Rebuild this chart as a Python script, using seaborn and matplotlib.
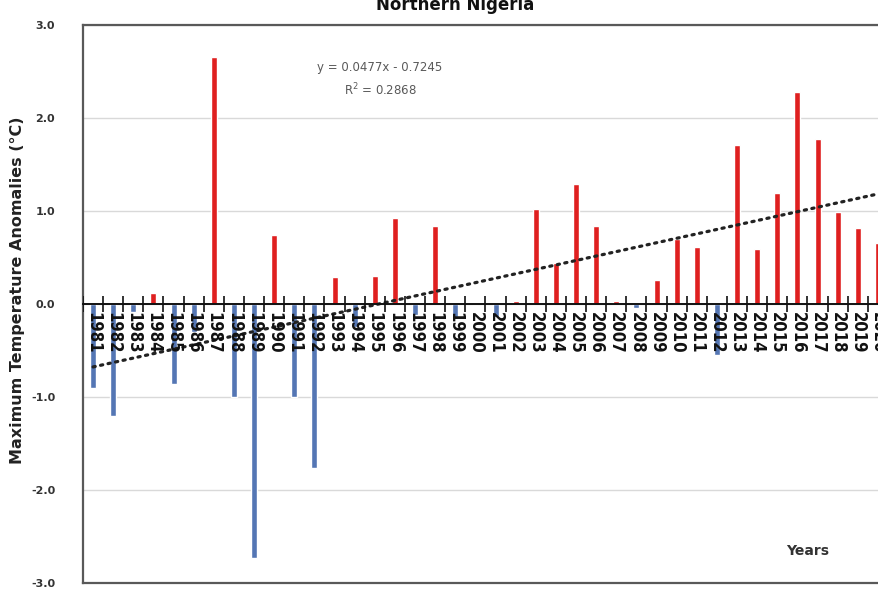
import matplotlib
matplotlib.use("Agg")
import matplotlib.pyplot as plt
from matplotlib.ticker import FormatStrFormatter
import numpy as np
import pandas as pd
import seaborn as sns

# Annual maximum temperature anomalies (°C), Northern Nigeria
years = list(range(1981, 2021))
anomalies = [
    -0.90, -1.20, -0.09, 0.12, -0.86, -0.30, 2.66, -1.00, -2.73, 0.74,
    -1.00, -1.76, 0.29, -0.25, 0.30, 0.92, -0.12, 0.84, -0.14, 0.00,
    -0.14, 0.03, 1.02, 0.44, 1.29, 0.84, 0.03, -0.04, 0.26, 0.70,
    0.61, -0.55, 1.71, 0.59, 1.19, 2.28, 1.77, 0.99, 0.82, 0.66,
]
# Linear trend as reported on the chart (x = 1 .. n)
trend_slope = 0.0477
trend_intercept = -0.7245
trend_r2 = 0.2868

title = "Northern Nigeria"
y_label = "Maximum Temperature Anomalies (°C)"
x_label = "Years"
y_ticks = [-3.0, -2.0, -1.0, 0.0, 1.0, 2.0, 3.0]

df = pd.DataFrame({
    "year": [str(y) for y in years],
    "anomaly": anomalies,
})
df["sign"] = np.where(df["anomaly"] >= 0, "pos", "neg")

sns.set_theme(style="white")
plt.rcParams["font.family"] = ["DejaVu Sans"]

fig = plt.figure(figsize=(8.79, 5.92), dpi=100)
ax = fig.add_axes([83 / 879, 9 / 592, 805 / 879, 558 / 592])

sns.barplot(
    data=df, x="year", y="anomaly", hue="sign",
    order=df["year"], hue_order=["neg", "pos"],
    palette={"neg": "#4472C4", "pos": "#FF0000"},
    dodge=False, width=0.3, legend=False, ax=ax, zorder=2,
)

# Trend line from the reported regression
pos = np.arange(len(years))
trend = trend_slope * (pos + 1) + trend_intercept
ax.plot(pos, trend, linestyle=(0, (0.7, 1.7)), color="#222222",
        linewidth=2.3, dash_capstyle="round", zorder=3)

ax.set_xlim(-0.5, len(years) - 0.5)
ax.set_ylim(y_ticks[0], y_ticks[-1])
ax.set_yticks(y_ticks)
ax.yaxis.set_major_formatter(FormatStrFormatter("%.1f"))
ax.tick_params(axis="y", length=0, pad=20, labelsize=8, labelcolor="#333333")
for lab in ax.get_yticklabels():
    lab.set_fontweight("bold")
ax.set_xticks([])
ax.set_xlabel("")
ax.set_ylabel("")

ax.yaxis.grid(True, color="#d9d9d9", linewidth=1.0, zorder=0)
ax.set_axisbelow(True)
for s in ax.spines.values():
    s.set_color("#595959")
    s.set_linewidth(1.6)

# Category separators crossing the zero line
boundaries = np.arange(len(years) + 1) - 0.5
ax.vlines(boundaries, -0.085, 0.085, color="#111111", linewidth=1.2, zorder=4)

# Zero line carrying the year labels
zero_ax = ax.secondary_xaxis(0.5)
zero_ax.set_zorder(5)
zero_ax.xaxis.tick_bottom()
for name in ("top", "bottom"):
    zero_ax.spines[name].set_color("#111111")
    zero_ax.spines[name].set_linewidth(1.4)
zero_ax.set_xticks(pos)
zero_ax.set_xticklabels([str(y) for y in years], rotation=-90,
                        fontsize=12, fontweight="bold", fontstretch="condensed",
                        color="#111111")
zero_ax.tick_params(axis="x", which="major", length=0, pad=6,
                    bottom=True, top=False, labelbottom=True, labeltop=False)

fig.text(18 / 879, 1 - 290 / 592, y_label, rotation=90, ha="center",
         va="center", fontsize=11.5, fontweight="bold", color="#222222")
ax.text(0.90, 0.057, x_label, transform=ax.transAxes, ha="center",
        va="center", fontsize=10, fontweight="bold", color="#333333")
ax.text(0.369, 0.923, f"y = {trend_slope}x - {abs(trend_intercept)}",
        transform=ax.transAxes, ha="center", va="center",
        fontsize=8.5, color="#595959")
ax.text(0.369, 0.884, f"R$^2$ = {trend_r2}",
        transform=ax.transAxes, ha="center", va="center",
        fontsize=8.5, color="#595959")
fig.text(455 / 879, 1 - 5 / 592, title, ha="center", va="center",
         fontsize=12, fontweight="bold", color="#111111")

fig.savefig("out.png", dpi=100, facecolor="white")
